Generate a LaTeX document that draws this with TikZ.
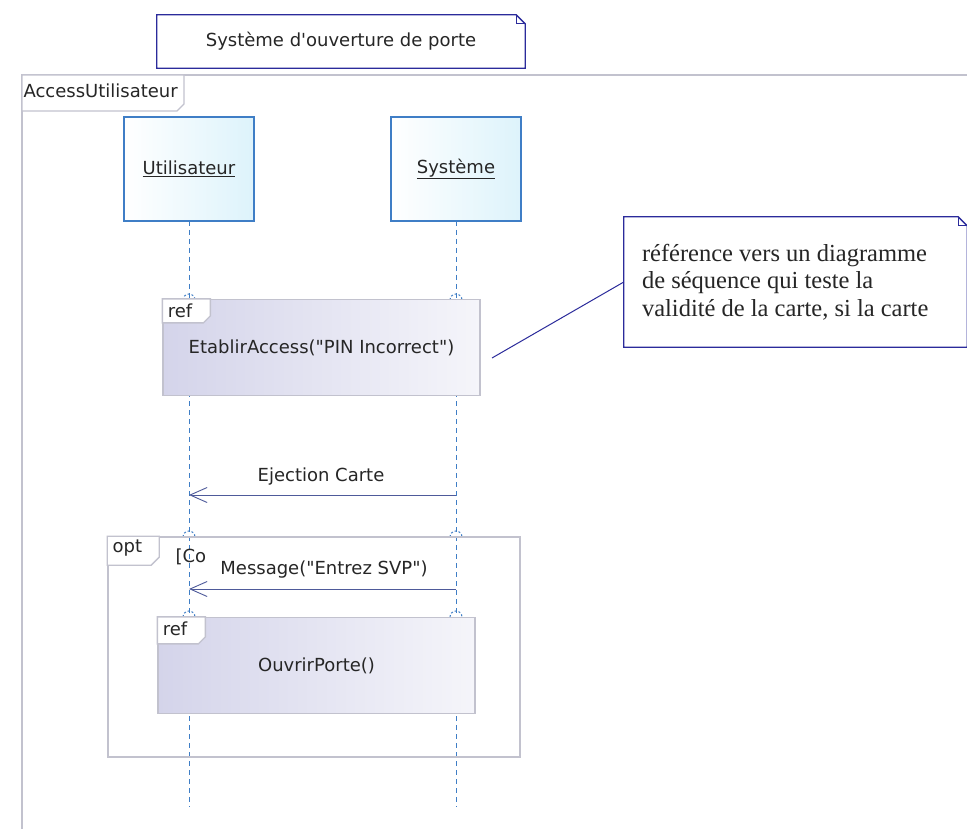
\documentclass[tikz,border=0pt]{standalone}
\usepackage{fontspec}
\setmainfont{DejaVu Sans}[Ligatures=TeXOff]
\newfontfamily\notefont{Liberation Serif}[Ligatures=TeXOff]
\usepackage{tikz}
\usetikzlibrary{arrows.meta}

\definecolor{noteblue}{HTML}{2B2B9B}
\definecolor{lifeblue}{HTML}{3F7EC6}
\definecolor{headcyan}{HTML}{DDF3FB}
\definecolor{framegray}{HTML}{C2C2CE}
\definecolor{reflav}{HTML}{D4D4EA}
\definecolor{refpale}{HTML}{F5F5FA}
\definecolor{msgblue}{HTML}{4E5A9A}

\begin{document}
\begin{tikzpicture}[x=1pt,y=-1pt,
        every node/.style={font=\fontsize{18}{21}\selectfont, text=black!85},
        headbox/.style={draw=lifeblue, line width=1.3pt, left color=white, right color=headcyan,
            minimum width=130pt, minimum height=104pt},
        refbox/.style={draw=framegray, line width=1.3pt, left color=reflav, right color=refpale,
            minimum width=317pt, minimum height=96pt},
        tabbox/.style={draw=framegray, line width=1.3pt, fill=white},
        lifeline/.style={lifeblue, line width=1pt, dash pattern=on 5pt off 4pt},
        msg/.style={msgblue, line width=0.9pt, -{Straight Barb[length=17pt,width=15pt]}},
        notebox/.style={draw=noteblue, line width=1.3pt, fill=white}]
        \useasboundingbox (0,0) rectangle (967,829);
        \clip (0,0) rectangle (967,829);
        \fill[white] (0,0) rectangle (967,829);

        % Frame AccessUtilisateur
        \draw[framegray, line width=1.3pt] (22,840) -- (22,75) -- (980,75);
        \draw[tabbox] (22,75) -- (184,75) -- (184,104) -- (177,111) -- (22,111) -- cycle;
        \node[anchor=west] (frame) at (20,91) {AccessUtilisateur};

        % Title note
        \node[minimum width=368pt, minimum height=53pt] (title) at (341,41.5) {};
        \draw[notebox] (title.south west) -- (title.north west) -- ([xshift=-9pt]title.north east)
            -- ([yshift=-9pt]title.north east) -- (title.south east) -- cycle;
        \draw[noteblue, line width=1pt] ([xshift=-9pt]title.north east) -- ++(0,9) -- ++(9,0);
        \node at (title) {Système d'ouverture de porte};

        % Lifelines
        \coordinate (uend) at (189,807);
        \coordinate (send) at (456,807);
        \draw[lifeline] (189,221) -- (uend);
        \draw[lifeline] (456,221) -- (send);
        \node[headbox] (utilisateur) at (189,169) {\underline{Utilisateur}};
        \node[headbox] (systeme) at (456,169) {\underline{Système}};

        % small gates where the lifelines enter the fragments
        \foreach \gx/\gy in {189/300, 456/300, 189/537, 456/537, 189/617, 456/617}
            \draw[lifeline, dash pattern=on 2pt off 2pt] (\gx-6,\gy) arc[start angle=180, end angle=0, radius=6pt];

        % ref EtablirAccess
        \node[refbox] (etablir) at (321.5,347.5) {EtablirAccess("PIN Incorrect")};
        \draw[tabbox] (etablir.north west) -- ++(48,0) -- ++(0,17) -- ++(-7,7) -- ++(-41,0) -- cycle;
        \node[anchor=north west, xshift=2pt, yshift=-1pt] (ref1) at (etablir.north west) {ref};

        % Ejection Carte
        \coordinate (s1) at (456,495);
        \coordinate (u1) at (189,495);
        \draw[msg] (s1) -- (u1);
        \node (ejection) at (321,477) {Ejection Carte};

        % opt fragment
        \node[draw=framegray, line width=1.6pt, minimum width=412pt, minimum height=220pt] (optframe) at (314,647) {};
        \draw[tabbox] (optframe.north west) -- ++(52,0) -- ++(0,21) -- ++(-8,8) -- ++(-44,0) -- cycle;
        \node[anchor=north west, xshift=2pt] (opt) at (optframe.north west) {opt};
        \node[anchor=west] (guard) at (172,557) {[Co};
        \node (message) at (324,570) {Message("Entrez SVP")};
        \coordinate (s2) at (456,589);
        \coordinate (u2) at (189,589);
        \draw[msg] (s2) -- (u2);

        % ref OuvrirPorte
        \node[refbox] (ouvrir) at (316.5,665.5) {OuvrirPorte()};
        \draw[tabbox] (ouvrir.north west) -- ++(48,0) -- ++(0,20) -- ++(-7,7) -- ++(-41,0) -- cycle;
        \node[anchor=north west, xshift=2pt, yshift=-1pt] (ref2) at (ouvrir.north west) {ref};

        % Comment note
        \node[minimum width=343pt, minimum height=130pt] (comment) at (795.5,282) {};
        \draw[notebox] (comment.south west) -- (comment.north west) -- ([xshift=-9pt]comment.north east)
            -- ([yshift=-9pt]comment.north east) -- (comment.south east) -- cycle;
        \draw[noteblue, line width=1pt] ([xshift=-9pt]comment.north east) -- ++(0,9) -- ++(9,0);
        \node[anchor=west, align=left, inner xsep=0pt, font=\notefont\fontsize{24.5}{27.5}\selectfont]
            (commenttext) at ([xshift=18pt]comment.west)
            {référence vers un diagramme\\de séquence qui teste la\\validité de la carte, si la carte};
        \coordinate (etablirtip) at (492,358);
        \draw[noteblue, line width=1pt] (etablirtip) -- (comment.west);
    \end{tikzpicture}
\end{document}
